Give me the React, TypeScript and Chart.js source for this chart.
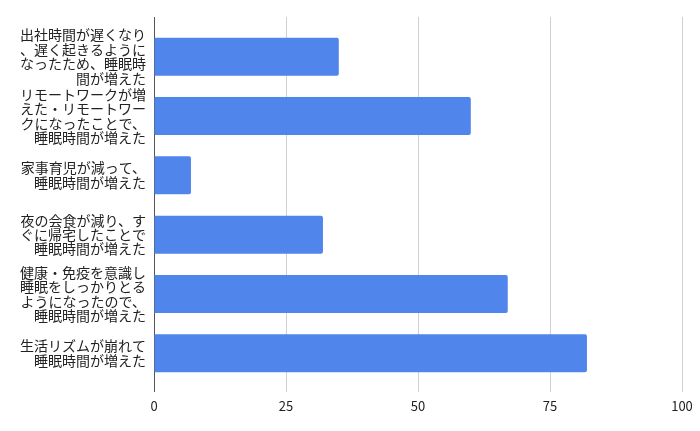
import React, { useEffect, useRef } from "react";
import { Chart, registerables } from "chart.js";

Chart.register(...registerables);

const categories: string[][] = [
  ["出社時間が遅くなり", "、遅く起きるように", "なったため、睡眠時", "間が増えた"],
  ["リモートワークが増", "えた・リモートワー", "クになったことで、", "睡眠時間が増えた"],
  ["家事育児が減って、", "睡眠時間が増えた"],
  ["夜の会食が減り、す", "ぐに帰宅したことで", "睡眠時間が増えた"],
  ["健康・免疫を意識し", "睡眠をしっかりとる", "ようになったので、", "睡眠時間が増えた"],
  ["生活リズムが崩れて", "睡眠時間が増えた"],
];

const values: number[] = [35, 60, 7, 32, 67, 82];

const xTicks: number[] = [0, 25, 50, 75, 100];

const FONT = "'Noto Sans CJK JP', 'Noto Sans', sans-serif";

export default function App() {
  const ref = useRef<HTMLCanvasElement | null>(null);

  useEffect(() => {
    if (!ref.current) return;
    const gridColor = (ctx: any) =>
      ctx.tick && ctx.tick.value === 0 ? "#555555" : "#d0d0d0";
    const chart = new Chart(ref.current, {
      type: "bar",
      data: {
        labels: categories,
        datasets: [
          {
            data: values,
            backgroundColor: "#5086ec",
            borderRadius: 2,
            borderSkipped: "left",
            barPercentage: 0.64,
            categoryPercentage: 1,
          },
        ],
      },
      options: {
        indexAxis: "y",
        animation: false,
        responsive: false,
        maintainAspectRatio: false,
        devicePixelRatio: 1,
        layout: { padding: { top: 17, right: 18, left: 0, bottom: 0 } },
        plugins: {
          legend: { display: false },
          tooltip: { enabled: false },
        },
        scales: {
          x: {
            type: "linear",
            position: "bottom",
            min: 0,
            max: 100,
            afterBuildTicks: (s: any) => {
              s.ticks = xTicks.map((v) => ({ value: v }));
            },
            afterFit: (s: any) => {
              s.height = 48;
            },
            grid: {
              color: gridColor,
              lineWidth: 1,
              drawTicks: true,
              tickLength: 9,
            },
            border: { display: false },
            ticks: {
              color: "#222222",
              padding: 6,
              font: { family: FONT, size: 13 },
            },
          },
          x2: {
            type: "linear",
            position: "top",
            min: 0,
            max: 100,
            afterBuildTicks: (s: any) => {
              s.ticks = xTicks.map((v) => ({ value: v }));
            },
            afterFit: (s: any) => {
              s.height = 10;
            },
            grid: {
              color: gridColor,
              lineWidth: 1,
              drawOnChartArea: false,
              drawTicks: true,
              tickLength: 10,
            },
            border: { display: false },
            ticks: { display: false },
          },
          y: {
            type: "category",
            afterFit: (s: any) => {
              s.width = 154;
            },
            grid: { display: false, drawTicks: false },
            border: { display: false },
            ticks: {
              color: "#222222",
              padding: 8,
              autoSkip: false,
              font: { family: FONT, size: 14, lineHeight: 1.03 },
            },
          },
        },
      },
    });
    return () => chart.destroy();
  }, []);

  return (
    <div style={{ position: "fixed", left: 0, top: 0, width: 700, height: 431, background: "#fff" }}>
      <canvas ref={ref} width={700} height={431} style={{ width: 700, height: 431 }} />
    </div>
  );
}
